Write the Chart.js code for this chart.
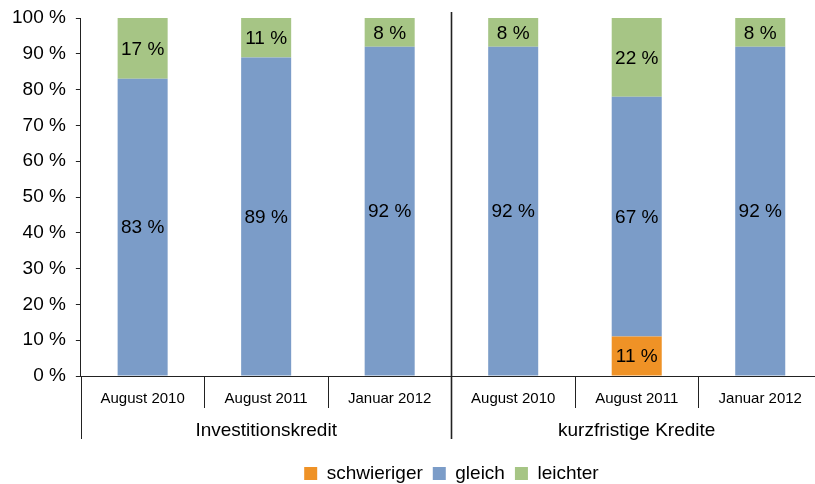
<!DOCTYPE html>
<html>
<head>
<meta charset="utf-8">
<script src="https://cdn.jsdelivr.net/npm/chart.js@4/dist/chart.umd.min.js"></script>
<style>
  html, body { margin: 0; padding: 0; background: #fff; overflow: hidden; }
  #wrap { width: 815px; height: 484px; overflow: hidden; }
  #box { width: 830px; height: 484px; }
</style>
</head>
<body>
<div id="wrap"><div id="box"><canvas id="chart"></canvas></div></div>
<script>
const categories = ["August 2010", "August 2011", "Januar 2012", "August 2010", "August 2011", "Januar 2012"];
const groups = ["Investitionskredit", "kurzfristige Kredite"];
const schwieriger = [0, 0, 0, 0, 11, 0];
const gleich = [83, 89, 92, 92, 67, 92];
const leichter = [17, 11, 8, 8, 22, 8];

const FONT = "'Liberation Sans', Arial, sans-serif";

// separators under the axis + group names
const groupAxis = {
    id: "groupAxis",
    afterDraw(chart) {
        const ctx = chart.ctx;
        const area = chart.chartArea;
        const x = chart.scales.x;
        const n = categories.length;
        const w = (x.right - x.left) / n;
        ctx.save();
        ctx.strokeStyle = "#222";
        for (let k = 0; k <= n; k++) {
            const px = Math.round(x.left + k * w) + 0.5;
            ctx.beginPath();
            if (k === 0) {
                ctx.lineWidth = 1;
                ctx.moveTo(px, area.bottom);
                ctx.lineTo(px, area.bottom + 63);
            } else if (k === n / 2) {
                ctx.lineWidth = 1.6;
                ctx.moveTo(px, area.top - 6);
                ctx.lineTo(px, area.bottom + 63);
            } else {
                ctx.lineWidth = 1;
                ctx.moveTo(px, area.bottom);
                ctx.lineTo(px, area.bottom + 32);
            }
            ctx.stroke();
        }
        ctx.fillStyle = "#000";
        ctx.font = "19px " + FONT;
        ctx.textAlign = "center";
        ctx.textBaseline = "middle";
        const per = n / groups.length;
        groups.forEach((g, i) => {
            const cx = x.left + (i * per + per / 2) * w;
            ctx.fillText(g, cx, area.bottom + 55);
        });
        ctx.restore();
    }
};

// value labels in the middle of each segment
const barLabels = {
    id: "barLabels",
    afterDatasetsDraw(chart) {
        const ctx = chart.ctx;
        ctx.save();
        ctx.fillStyle = "#000";
        ctx.font = "19px " + FONT;
        ctx.textAlign = "center";
        ctx.textBaseline = "middle";
        chart.data.datasets.forEach((ds, di) => {
            const meta = chart.getDatasetMeta(di);
            meta.data.forEach((el, i) => {
                const v = ds.data[i];
                if (!v) return;
                ctx.fillText(v + " %", el.x, (el.y + el.base) / 2 + 1);
            });
        });
        ctx.restore();
    }
};

const data = {
    labels: categories,
    datasets: [
        { label: "schwieriger", data: schwieriger, backgroundColor: "#ef9226", borderWidth: 0 },
        { label: "gleich", data: gleich, backgroundColor: "#7b9cc8", borderWidth: 0 },
        { label: "leichter", data: leichter, backgroundColor: "#a6c585", borderWidth: 0 },
    ],
};

const config = {
    type: "bar",
    data: data,
    options: {
        responsive: true,
        maintainAspectRatio: false,
        animation: false,
        barPercentage: 0.405,
        categoryPercentage: 1,
        layout: { padding: { left: 2, right: 8, top: 18, bottom: -9 } },
        scales: {
            x: {
                stacked: true,
                grid: { display: false, drawTicks: false },
                border: { display: true, color: "#222", width: 1 },
                ticks: { color: "#000", font: { family: FONT, size: 15 }, padding: 14, autoSkip: false, maxRotation: 0 },
                afterFit(scale) { scale.height = 78; },
            },
            y: {
                stacked: true,
                min: 0,
                max: 100,
                grid: { display: true, drawOnChartArea: false, drawTicks: true, tickLength: 5, color: "#222" },
                border: { display: true, color: "#222", width: 1 },
                ticks: {
                    stepSize: 10,
                    color: "#000",
                    padding: 10,
                    font: { family: FONT, size: 19, lineHeight: 0.7 },
                    callback: (v) => v + " %",
                },
            },
        },
        plugins: {
            legend: {
                position: "bottom",
                fullSize: false,
                labels: {
                    color: "#000",
                    boxWidth: 13,
                    boxHeight: 13,
                    padding: 10,
                    font: { family: FONT, size: 19 },
                },
            },
            tooltip: { enabled: false },
        },
    },
    plugins: [groupAxis, barLabels],
};

new Chart(document.getElementById("chart"), config);
</script>
</body>
</html>
